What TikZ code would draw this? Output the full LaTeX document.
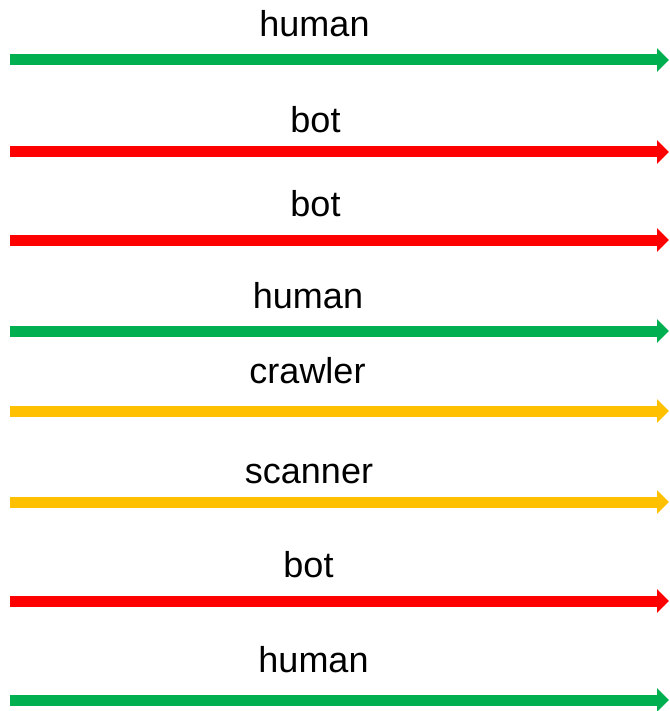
\documentclass[tikz,border=0pt]{standalone}
\usepackage{fontspec}
\setmainfont{Liberation Sans}
\usetikzlibrary{arrows.meta}
\definecolor{cgreen}{HTML}{00B050}
\definecolor{cred}{HTML}{FF0000}
\definecolor{cyellow}{HTML}{FFC000}
\begin{document}
\begin{tikzpicture}[x=1pt,y=-1pt,
  lbl/.style={anchor=base,inner sep=0pt,font=\fontsize{36}{40}\selectfont},
  flow/.style={line width=11pt,-{Triangle[length=12pt,width=23pt]}}]
\useasboundingbox (0,0) rectangle (669,711);
\foreach \i/\t/\tx/\by/\ly/\c in {1/human/314.5/37/60/cgreen,2/bot/315.5/133/152/cred,3/bot/315.5/217/240/cred,4/human/308/308/331/cgreen,5/crawler/307.5/383/411/cyellow,6/scanner/309/483/502/cyellow,7/bot/308.5/577/601/cred,8/human/313.5/672/700/cgreen}{
  \node[lbl] (t\i) at (\tx,\by) {\t};
  \coordinate (s\i) at (10,\ly);
  \coordinate (e\i) at (669,\ly);
  \draw[flow,draw=\c,fill=\c] (s\i) -- (e\i);
}
\end{tikzpicture}
\end{document}
